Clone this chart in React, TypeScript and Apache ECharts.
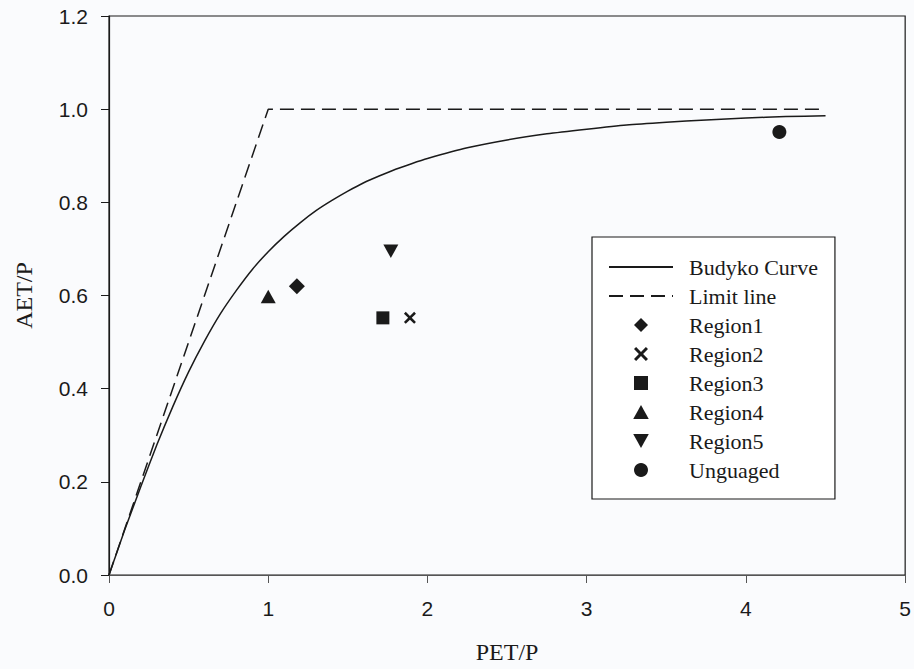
import React, { useEffect, useRef } from "react";
import * as echarts from "echarts";

const budykoX = [0, 0.05, 0.1, 0.2, 0.3, 0.4, 0.5, 0.6, 0.7, 0.8, 0.9, 1.0, 1.1, 1.2, 1.3, 1.4, 1.5, 1.6, 1.7, 1.8, 1.9, 2.0, 2.25, 2.5, 2.75, 3.0, 3.25, 3.5, 3.75, 4.0, 4.25, 4.5];
const budykoY = [0, 0.049, 0.098, 0.190, 0.279, 0.361, 0.436, 0.502, 0.561, 0.611, 0.656, 0.694, 0.727, 0.756, 0.782, 0.804, 0.824, 0.842, 0.857, 0.871, 0.883, 0.894, 0.917, 0.934, 0.947, 0.957, 0.966, 0.972, 0.977, 0.981, 0.984, 0.986];

const limitX = [0, 1, 4.5];
const limitY = [0, 1, 1];

const region1 = [[1.18, 0.62]];
const region2 = [[1.89, 0.552]];
const region3 = [[1.72, 0.552]];
const region4 = [[1.0, 0.598]];
const region5 = [[1.77, 0.695]];
const unguaged = [[4.21, 0.951]];

const xTicks = ["0", "1", "2", "3", "4", "5"];
const yTicks = ["0.0", "0.2", "0.4", "0.6", "0.8", "1.0", "1.2"];

const crossPath =
  "path://M0,1.5 L1.5,0 L5,3.5 L8.5,0 L10,1.5 L6.5,5 L10,8.5 L8.5,10 L5,6.5 L1.5,10 L0,8.5 L3.5,5 Z";
const diamondPath = "path://M5,0 L10,5 L5,10 L0,5 Z";
const squarePath = "path://M0,0 L10,0 L10,10 L0,10 Z";
const triUpPath = "path://M5,0 L10,9 L0,9 Z";
const triDownPath = "path://M0,0 L10,0 L5,9 Z";

const INK = "#1a1a1a";
const SERIF = "'Liberation Serif', 'Times New Roman', serif";
const SANS = "'Liberation Sans', Arial, sans-serif";

export default function App() {
  const ref = useRef<HTMLDivElement>(null);
  useEffect(() => {
    if (!ref.current) return;
    const chart = echarts.init(ref.current, null, { renderer: "svg" });
    const scatter = (name: string, data: number[][], symbol: string, size: number) => ({
      name,
      type: "scatter",
      data,
      symbol,
      symbolSize: size,
      symbolKeepAspect: true,
      itemStyle: { color: INK, opacity: 1 },
      z: 5,
    });
    const scatterLegend = (name: string, icon: string) => ({
      name,
      icon,
      itemStyle: { color: INK, opacity: 1 },
    });
    chart.setOption({
      animation: false,
      backgroundColor: "#fafbfd",
      grid: {
        left: 109,
        top: 16,
        width: 803,
        height: 563,
        show: true,
        borderColor: INK,
        borderWidth: 1.2,
        backgroundColor: "transparent",
      },
      xAxis: {
        type: "value",
        min: 0,
        max: 5,
        interval: 1,
        name: "PET/P",
        nameLocation: "middle",
        nameGap: 65,
        nameTextStyle: { fontFamily: SERIF, fontSize: 24, color: INK },
        axisLine: { onZero: false, lineStyle: { color: "#555", width: 1.2 } },
        axisTick: { show: true, inside: false, length: 8, lineStyle: { color: "#555" } },
        axisLabel: {
          margin: 23,
          fontFamily: SANS,
          fontSize: 21,
          color: INK,
          formatter: (v: number) => xTicks[Math.round(v)] ?? "",
        },
        splitLine: { show: false },
      },
      yAxis: {
        type: "value",
        min: 0,
        max: 1.2,
        interval: 0.2,
        name: "AET/P",
        nameLocation: "middle",
        nameGap: 73,
        nameTextStyle: { fontFamily: SERIF, fontSize: 24, color: INK },
        axisLine: { onZero: false, lineStyle: { color: INK, width: 1.2 } },
        axisTick: { show: true, inside: false, length: 8, lineStyle: { color: INK } },
        axisLabel: {
          margin: 21,
          fontFamily: SANS,
          fontSize: 21,
          color: INK,
          formatter: (v: number) => yTicks[Math.round(v * 5)] ?? "",
        },
        splitLine: { show: false },
      },
      legend: {
        orient: "vertical",
        left: 592,
        top: 237,
        align: "left",
        padding: [19, 17, 18, 16],
        itemWidth: 64,
        itemHeight: 14,
        itemGap: 7,
        symbolKeepAspect: true,
        backgroundColor: "#fff",
        borderColor: INK,
        borderWidth: 1.2,
        textStyle: {
          fontFamily: SERIF,
          fontSize: 22,
          color: INK,
          lineHeight: 22,
          padding: [0, 0, 0, 11],
        },
        data: [
          { name: "Budyko Curve", itemStyle: { opacity: 0 } },
          { name: "Limit line", itemStyle: { opacity: 0 } },
          scatterLegend("Region1", diamondPath),
          scatterLegend("Region2", crossPath),
          scatterLegend("Region3", squarePath),
          scatterLegend("Region4", triUpPath),
          scatterLegend("Region5", triDownPath),
          scatterLegend("Unguaged", "circle"),
        ],
      },
      series: [
        {
          name: "Budyko Curve",
          type: "line",
          data: budykoX.map((x, i) => [x, budykoY[i]]),
          symbol: "none",
          smooth: 0.2,
          lineStyle: { color: INK, width: 1.5, type: "solid" },
          itemStyle: { color: INK },
        },
        {
          name: "Limit line",
          type: "line",
          data: limitX.map((x, i) => [x, limitY[i]]),
          symbol: "none",
          lineStyle: { color: INK, width: 1.5, type: [14, 7] },
          itemStyle: { color: INK },
        },
        scatter("Region1", region1, diamondPath, 16),
        scatter("Region2", region2, crossPath, 12),
        scatter("Region3", region3, squarePath, 13),
        scatter("Region4", region4, triUpPath, 15),
        scatter("Region5", region5, triDownPath, 15),
        scatter("Unguaged", unguaged, "circle", 14),
      ],
    });
    return () => chart.dispose();
  }, []);
  return (
    <div
      ref={ref}
      style={{ position: "fixed", left: 0, top: 0, width: 914, height: 669 }}
    />
  );
}
